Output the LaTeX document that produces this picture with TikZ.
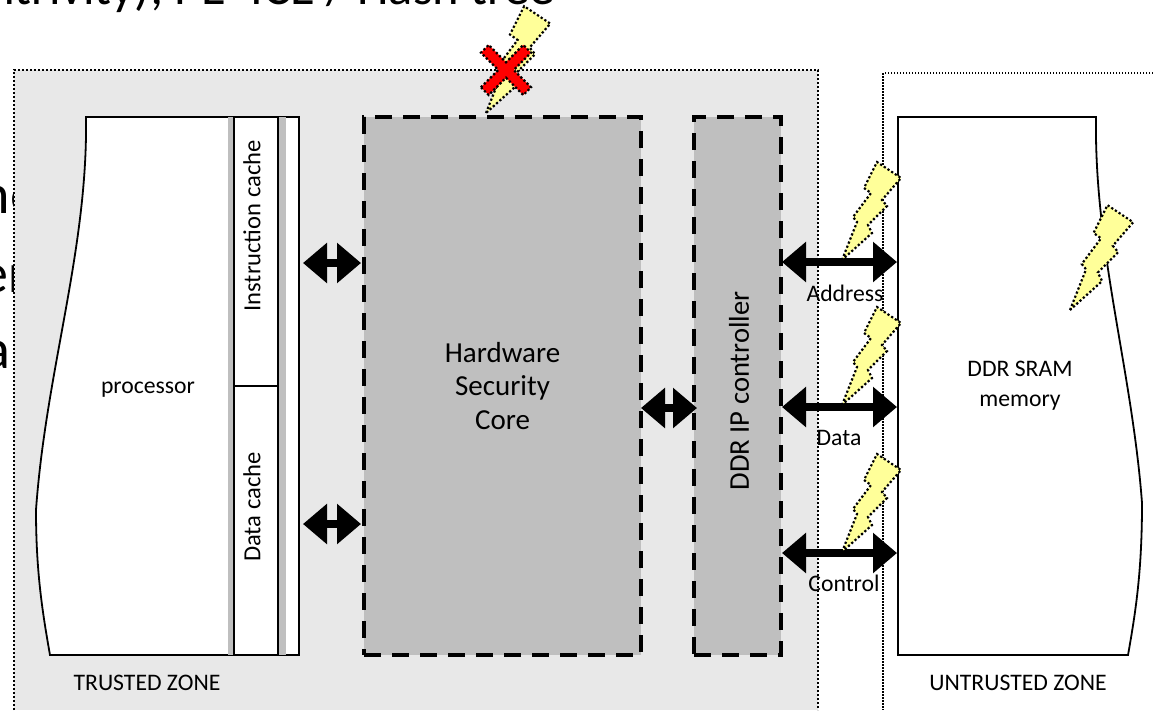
\documentclass[tikz,border=0pt]{standalone}
\usepackage{fontspec}
\setmainfont{Carlito}
\usepackage{xcolor}
\usetikzlibrary{positioning,arrows.meta,calc}
\definecolor{zonegray}{HTML}{E8E8E8}
\definecolor{coregray}{HTML}{BFBFBF}
\definecolor{boltyellow}{HTML}{FFFF99}

\begin{document}
\begin{tikzpicture}[
  x=1pt,y=-1pt,
  every node/.style={inner sep=0pt,outer sep=0pt},
  zoneline/.style={line width=2pt,dash pattern=on 2pt off 2pt},
  outline/.style={draw=black,line width=1.8pt,fill=white},
  cachebox/.style={outline,minimum width=44pt},
  cachetext/.style={rotate=90,font=\fontsize{24.6}{26}\selectfont},
  core/.style={draw=black,line width=3.3pt,dash pattern=on 16.7pt off 11.3pt,fill=coregray,align=center},
  duplex/.style={{Triangle[length=24pt,width=39pt]}-{Triangle[length=24pt,width=39pt]},line width=8pt},
  lbl/.style={font=\fontsize{23.7}{30}\selectfont,align=center},
  slide/.style={font=\fontsize{50.5}{52}\selectfont},
  frag/.style={font=\fontsize{56}{58}\selectfont,anchor=base east},
  attack/.style={line width=2.2pt,dash pattern=on 2.2pt off 2.2pt},
  pics/bolt/.style={code={
    \draw[attack,fill=boltyellow]
      (0,0) -- (15,-38) -- (11,-43) -- (29,-67) -- (22,-72) -- (35,-98) -- (59,-82)
      -- (40,-60) -- (45,-54) -- (26,-35) -- (30,-27) -- cycle;
  }}]
\useasboundingbox (0,0) rectangle (1153,710);
% slide text behind the figure
\node[slide,anchor=base east] (title) at (555,4) {ntrivity); PE–ICE / Hash tree};
\node[frag] (frag1) at (38,213) {he};
\node[frag] (frag2) at (28,292) {er};
\node[frag] (frag3) at (10,368) {a};
% zones
\fill[zonegray] (14,70) rectangle (818,710);
\draw[zoneline] (14,710) |- (818,70) -- (818,710);
\draw[line width=1.5pt,dash pattern=on 1.5pt off 1.5pt] (1153,73) -| (883,710);
% processor and memory
\draw[outline] (86,117) -- (299,117) -- (299,655) -- (50,655)
  .. controls (42,610) and (36,570) .. (36,510)
  .. controls (46,370) and (88,250) .. (86,117) -- cycle;
\draw[outline] (898,117) -- (1096,117)
  .. controls (1094,250) and (1132,370) .. (1142,503)
  .. controls (1142,570) and (1136,610) .. (1128,655) -- (898,655) -- cycle;
\node[minimum width=6pt,minimum height=538pt,fill=coregray] (stripa) at (231,386) {};
\node[minimum width=8pt,minimum height=538pt,fill=coregray] (stripb) at (282,386) {};
\node[cachebox,minimum height=269pt] (icache) at (256,251.5) {};
\node[cachebox,minimum height=269pt,below=0pt of icache] (dcache) {};
\node[cachetext] (itext) at (252,226) {Instruction cache};
\node[cachetext] (dtext) at (252,507) {Data cache};
\node[lbl] (proc) at (148,390) {processor};
\node[lbl] (mem) at (1020,386) {DDR SRAM\\memory};
% blocks
\node[core,minimum width=277pt,minimum height=538pt,font=\fontsize{29}{33.5}\selectfont] (hsc) at (502.5,386) {Hardware\\Security\\Core};
\node[core,minimum width=87pt,minimum height=538pt,right=53pt of hsc] (ddr) {};
\node[rotate=90,font=\fontsize{28.6}{30}\selectfont] (ddrtext) at (739,391) {DDR IP controller};
% connectors
\coordinate (porta) at (303,263);
\coordinate (portb) at (303,524);
\coordinate (busa) at (782,262);
\coordinate (busb) at (782,407);
\coordinate (busc) at (782,553);
\draw[duplex,shorten >=3pt] (porta) -- (hsc.west |- porta);
\draw[duplex,shorten >=3pt] (portb) -- (hsc.west |- portb);
\draw[duplex,shorten >=-3pt] (hsc.east |- 0,408) -- (ddr.west |- 0,408);
\draw[duplex] (busa) -- (897,262);
\draw[duplex] (busb) -- (897,407);
\draw[duplex] (busc) -- (897,553);
\node[lbl] (addr) at (845,293) {Address};
\node[lbl] (data) at (839,438) {Data};
\node[lbl] (ctrl) at (844,583) {Control};
\node[lbl] (tz) at (147,683) {TRUSTED ZONE};
\node[lbl] (uz) at (1018,683) {UNTRUSTED ZONE};
% attacks
\foreach \tipx/\tipy/\sz in {842/260/1,842/405/1,842/552/1,1070/310/1.07,486/113/1.09}
  \pic[scale=\sz] at (\tipx,\tipy) {bolt};
\draw[attack,fill=red,shift={(506,70)},rotate=45]
  (-30,-5.5) -- (-5.5,-5.5) -- (-5.5,-30) -- (5.5,-30) -- (5.5,-5.5) -- (30,-5.5) -- (30,5.5)
  -- (5.5,5.5) -- (5.5,30) -- (-5.5,30) -- (-5.5,5.5) -- (-30,5.5) -- cycle;
\end{tikzpicture}
\end{document}
